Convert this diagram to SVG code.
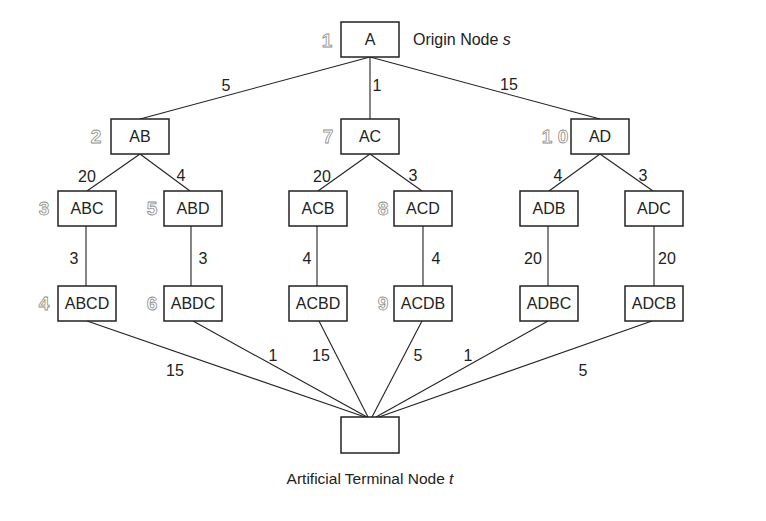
<svg xmlns="http://www.w3.org/2000/svg" width="766" height="521" viewBox="0 0 766 521">
<style>
.box{fill:#fff;stroke:#222;stroke-width:1.5}
.t{font-family:"Liberation Sans",Arial,sans-serif;font-size:16px;fill:#222;text-anchor:middle}
.n{font-family:"Liberation Sans",Arial,sans-serif;font-size:16px;fill:#222;text-anchor:middle}
.o{font-family:"Liberation Sans",Arial,sans-serif;font-size:19px;font-weight:bold;fill:#fff;stroke:#8c8c8c;stroke-width:0.8;text-anchor:middle}
.cap{font-family:"Liberation Sans",Arial,sans-serif;font-size:15.5px;fill:#222}
#edges line{stroke:#222;stroke-width:1.1}
</style>
<rect width="766" height="521" fill="#fff"/>
<g id="edges">
<line x1="370" y1="57" x2="140" y2="119"/>
<line x1="370" y1="57" x2="370" y2="119"/>
<line x1="370" y1="57" x2="600" y2="119"/>
<line x1="140" y1="154" x2="87" y2="191"/>
<line x1="140" y1="154" x2="190" y2="191"/>
<line x1="370" y1="154" x2="318" y2="191"/>
<line x1="370" y1="154" x2="422" y2="191"/>
<line x1="600" y1="154" x2="549" y2="191"/>
<line x1="600" y1="154" x2="653" y2="191"/>
<line x1="86" y1="226" x2="86" y2="286"/>
<line x1="191" y1="226" x2="191" y2="286"/>
<line x1="317" y1="226" x2="317" y2="286"/>
<line x1="423" y1="226" x2="423" y2="286"/>
<line x1="548" y1="226" x2="548" y2="286"/>
<line x1="654" y1="226" x2="654" y2="286"/>
<line x1="87" y1="321" x2="365" y2="417"/>
<line x1="193" y1="321" x2="367" y2="417"/>
<line x1="319" y1="321" x2="368" y2="417"/>
<line x1="422" y1="321" x2="372" y2="417"/>
<line x1="548" y1="321" x2="376" y2="417"/>
<line x1="652" y1="321" x2="379" y2="417"/>
<text class="n" x="226" y="91">5</text>
<text class="n" x="377" y="91">1</text>
<text class="n" x="509" y="90">15</text>
<text class="n" x="87" y="182">20</text>
<text class="n" x="181" y="181">4</text>
<text class="n" x="322" y="182">20</text>
<text class="n" x="413" y="181">3</text>
<text class="n" x="558" y="181">4</text>
<text class="n" x="643" y="181">3</text>
<text class="n" x="74" y="264">3</text>
<text class="n" x="203" y="264">3</text>
<text class="n" x="307" y="264">4</text>
<text class="n" x="436" y="264">4</text>
<text class="n" x="533" y="264">20</text>
<text class="n" x="667" y="264">20</text>
<text class="n" x="175" y="376">15</text>
<text class="n" x="273" y="361">1</text>
<text class="n" x="321" y="361">15</text>
<text class="n" x="418" y="361">5</text>
<text class="n" x="468" y="361">1</text>
<text class="n" x="583" y="376">5</text>
</g>
<g id="A"><rect class="box" x="341" y="22" width="58" height="35"/><text class="t" x="370" y="45">A</text><text class="o" x="327" y="47">1</text><text class="cap" x="413" y="45" style="font-size:16px">Origin Node <tspan font-style="italic">s</tspan></text></g>
<g id="AB"><rect class="box" x="111" y="119" width="58" height="35"/><text class="t" x="140" y="142">AB</text><text class="o" x="96" y="143">2</text></g>
<g id="AC"><rect class="box" x="341" y="119" width="58" height="35"/><text class="t" x="370" y="142">AC</text><text class="o" x="328" y="143">7</text></g>
<g id="AD"><rect class="box" x="571" y="119" width="58" height="35"/><text class="t" x="600" y="142">AD</text><text class="o" x="547" y="143">1</text><text class="o" x="563" y="143">0</text></g>
<g id="ABC"><rect class="box" x="58" y="191" width="58" height="35"/><text class="t" x="87" y="214">ABC</text><text class="o" x="44" y="215">3</text></g>
<g id="ABD"><rect class="box" x="164" y="191" width="58" height="35"/><text class="t" x="193" y="214">ABD</text><text class="o" x="152" y="215">5</text></g>
<g id="ACB"><rect class="box" x="289" y="191" width="58" height="35"/><text class="t" x="318" y="214">ACB</text></g>
<g id="ACD"><rect class="box" x="394" y="191" width="58" height="35"/><text class="t" x="423" y="214">ACD</text><text class="o" x="383" y="215">8</text></g>
<g id="ADB"><rect class="box" x="520" y="191" width="58" height="35"/><text class="t" x="549" y="214">ADB</text></g>
<g id="ADC"><rect class="box" x="625" y="191" width="58" height="35"/><text class="t" x="654" y="214">ADC</text></g>
<g id="ABCD"><rect class="box" x="58" y="286" width="58" height="35"/><text class="t" x="87" y="309">ABCD</text><text class="o" x="44" y="310">4</text></g>
<g id="ABDC"><rect class="box" x="164" y="286" width="58" height="35"/><text class="t" x="193" y="309">ABDC</text><text class="o" x="152" y="310">6</text></g>
<g id="ACBD"><rect class="box" x="289" y="286" width="58" height="35"/><text class="t" x="318" y="309">ACBD</text></g>
<g id="ACDB"><rect class="box" x="394" y="286" width="58" height="35"/><text class="t" x="423" y="309">ACDB</text><text class="o" x="383" y="310">9</text></g>
<g id="ADBC"><rect class="box" x="520" y="286" width="58" height="35"/><text class="t" x="549" y="309">ADBC</text></g>
<g id="ADCB"><rect class="box" x="625" y="286" width="58" height="35"/><text class="t" x="654" y="309">ADCB</text></g>
<g id="T"><rect class="box" x="341" y="417" width="58" height="36"/><text class="cap" x="370" y="484" text-anchor="middle">Artificial Terminal Node <tspan font-style="italic">t</tspan></text></g>
</svg>
